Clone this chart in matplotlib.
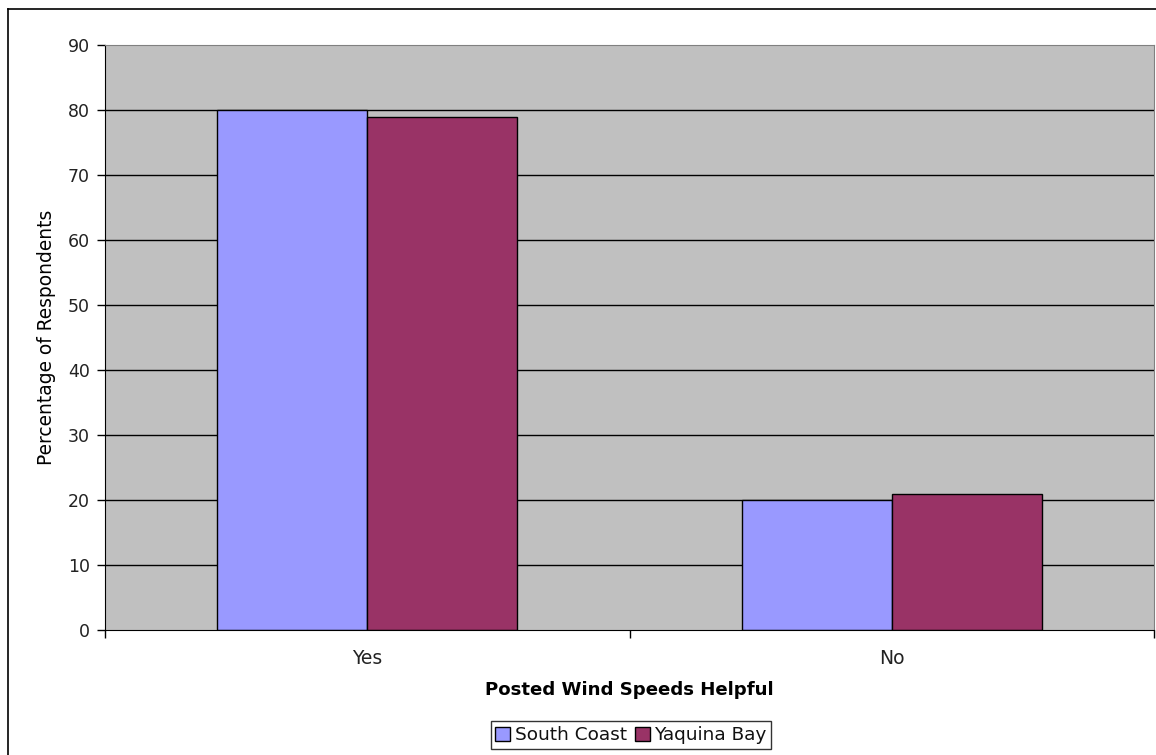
import matplotlib.pyplot as plt
import numpy as np
from matplotlib.lines import Line2D

categories = ["Yes", "No"]
south_coast = [80, 20]
yaquina_bay = [79, 21]
series_names = ["South Coast", "Yaquina Bay"]
y_ticks = [0, 10, 20, 30, 40, 50, 60, 70, 80, 90]

plt.rcParams['font.family'] = ['DejaVu Sans']
plt.rcParams['text.color'] = '#111111'

fig = plt.figure(figsize=(11.56, 7.55), dpi=100)
ax = fig.add_axes([105 / 1156, 125 / 755, 1049 / 1156, 585 / 755])
ax.set_facecolor('#C0C0C0')

x = np.arange(len(categories))
w = 0.2857
ax.bar(x - w / 2, south_coast, w, color='#9999FF', edgecolor='#000000', linewidth=1, zorder=3, label=series_names[0])
ax.bar(x + w / 2, yaquina_bay, w, color='#993366', edgecolor='#000000', linewidth=1, zorder=3, label=series_names[1])

ax.set_xlim(-0.5, 1.5)
ax.set_ylim(0, 90)
ax.set_yticks(y_ticks)
ax.tick_params(axis='y', labelsize=12.5, length=6, width=1, direction='out', pad=5, labelcolor='#222222')
ax.set_xticks([-0.5, 0.5, 1.5], minor=False)
ax.set_xticklabels([])
ax.tick_params(axis='x', length=6, width=1, direction='out')
ax.set_xticks(x, minor=True)
ax.set_xticklabels(categories, minor=True)
ax.tick_params(axis='x', which='minor', length=0, labelsize=13.5, pad=14, labelcolor='#222222')

for yv in y_ticks[1:-1]:
    ax.axhline(yv, color='#000000', linewidth=1, zorder=1)

for s in ['top', 'right']:
    ax.spines[s].set_color('#808080')
for s in ['left', 'bottom']:
    ax.spines[s].set_color('#000000')
ax.spines['bottom'].set_zorder(4)

ax.set_ylabel('Percentage of Respondents', fontsize=13.4, labelpad=8)
ax.set_xlabel('Posted Wind Speeds Helpful', fontsize=13.1, fontweight='bold', labelpad=9)

leg = fig.legend(loc='center', bbox_to_anchor=(631 / 1156, 1 - 735 / 755), ncol=2, fontsize=13.3,
                 frameon=True, fancybox=False, edgecolor='#000000', handlelength=0.8, handleheight=0.8,
                 handletextpad=0.25, columnspacing=0.45, borderpad=0.25, borderaxespad=0)
leg.get_frame().set_linewidth(1)

# outer chart border (cut off at right and bottom)
fig.add_artist(Line2D([8 / 1156, 1.0], [1 - 9 / 755, 1 - 9 / 755], color='#000000', linewidth=1.2, transform=fig.transFigure))
fig.add_artist(Line2D([8 / 1156, 8 / 1156], [0, 1 - 9 / 755], color='#000000', linewidth=1.2, transform=fig.transFigure))

fig.savefig('out.png', dpi=100)
